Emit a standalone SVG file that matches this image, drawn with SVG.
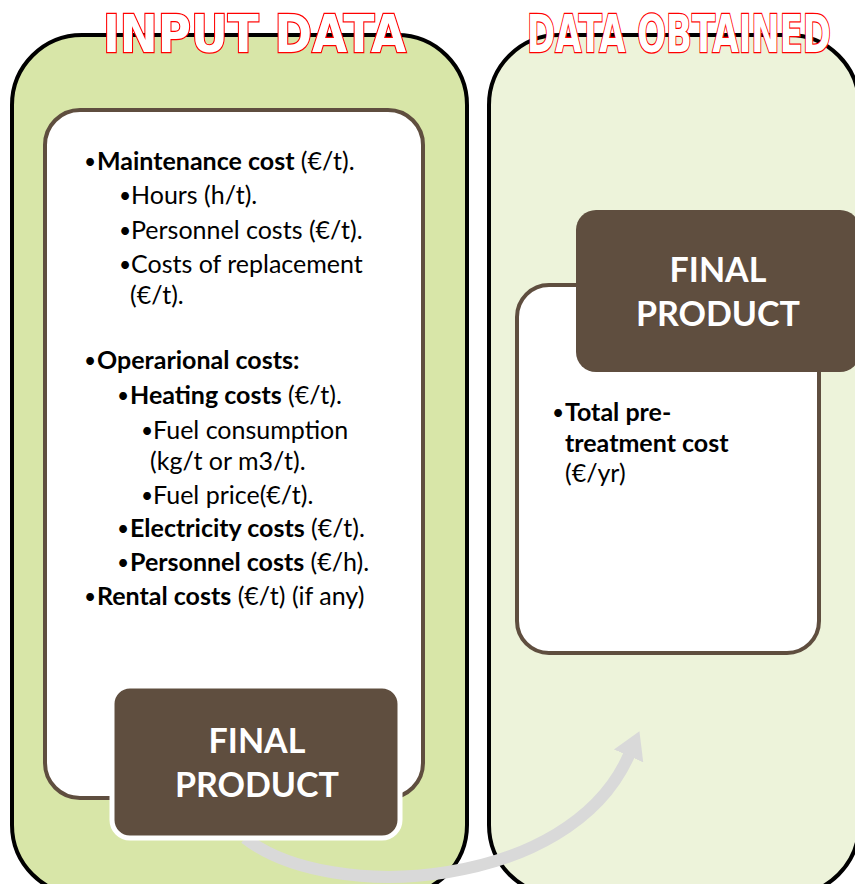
<svg xmlns="http://www.w3.org/2000/svg" width="855" height="884" viewBox="0 0 855 884">
<style>
.outer{stroke:#000;stroke-width:4}
.inner{fill:#fff;stroke:#5f4e3f;stroke-width:4}
.fp{fill:#5f4e3f}
.fpt{font-family:Lato,"Liberation Sans",sans-serif;font-weight:bold;font-size:34px;fill:#fff;text-anchor:middle}
.t{font-family:Lato,"Liberation Sans",sans-serif;font-size:25px;fill:#000}
.b{font-weight:bold}
.u{font-size:21px;baseline-shift:1px}
.title{font-family:"DejaVu Sans","Liberation Sans",sans-serif;font-weight:bold;font-size:51px;fill:#fff;stroke:#ff0000;stroke-width:2.4;paint-order:stroke}
</style>
<defs>
<marker id="ah" markerUnits="userSpaceOnUse" markerWidth="30" markerHeight="34" refX="1" refY="16" orient="auto" viewBox="0 0 30 32">
<path d="M0,0 L27,16 L0,32 Z" fill="#d9d9d9"/>
</marker>
</defs>
<rect width="855" height="884" fill="#fff"/>
<g id="input-data">
<rect class="outer" x="12" y="35" width="455" height="860" rx="70" fill="#d8e6a8"/>
<rect class="inner" x="45" y="110" width="378" height="688" rx="35"/>
<text class="t" y="170"><tspan x="84" class="u">•</tspan><tspan x="97" class="b">Maintenance cost</tspan> (€/t).</text>
<text class="t" y="204"><tspan x="119" class="u">•</tspan><tspan x="131">Hours (h/t).</tspan></text>
<text class="t" y="239"><tspan x="119" class="u">•</tspan><tspan x="131">Personnel costs (€/t).</tspan></text>
<text class="t" y="273"><tspan x="119" class="u">•</tspan><tspan x="131">Costs of replacement</tspan></text>
<text class="t" x="130" y="304">(€/t).</text>
<text class="t" y="369"><tspan x="84" class="u">•</tspan><tspan x="97" class="b">Operarional costs:</tspan></text>
<text class="t" y="404"><tspan x="117" class="u">•</tspan><tspan x="130" class="b">Heating costs</tspan> (€/t).</text>
<text class="t" y="439"><tspan x="141" class="u">•</tspan><tspan x="153">Fuel consumption</tspan></text>
<text class="t" x="150" y="470">(kg/t or m3/t).</text>
<text class="t" y="504"><tspan x="141" class="u">•</tspan><tspan x="153">Fuel price(€/t).</tspan></text>
<text class="t" y="537"><tspan x="117" class="u">•</tspan><tspan x="130" class="b">Electricity costs</tspan> (€/t).</text>
<text class="t" y="571"><tspan x="117" class="u">•</tspan><tspan x="130" class="b">Personnel costs</tspan>  (€/h).</text>
<text class="t" y="605"><tspan x="84" class="u">•</tspan><tspan x="97" class="b">Rental costs</tspan> (€/t) (if any)</text>
</g>
<g id="data-obtained">
<rect class="outer" x="489" y="35" width="370" height="860" rx="70" fill="#edf3da"/>
<rect class="inner" x="517" y="285" width="302" height="368" rx="32"/>
<text class="t" y="421"><tspan x="552" class="u">•</tspan><tspan x="565" class="b">Total pre-</tspan></text>
<text class="t b" x="565" y="452">treatment cost</text>
<text class="t" x="565" y="482">(€/yr)</text>
</g>
<g id="final-product-right">
<rect class="fp" x="576" y="210" width="284" height="162" rx="20"/>
<text class="fpt" x="718" y="282">FINAL</text>
<text class="fpt" x="718" y="326">PRODUCT</text>
</g>
<g id="connectors">
<path d="M245,838 C330,905 570,890 629,755" fill="none" stroke="#d9d9d9" stroke-width="12" marker-end="url(#ah)"/>
</g>
<g id="final-product-left">
<rect class="fp" x="112" y="686" width="288" height="152" rx="18" stroke="#fff" stroke-width="5"/>
<text class="fpt" x="257" y="753">FINAL</text>
<text class="fpt" x="257" y="797">PRODUCT</text>
</g>
<g id="titles">
<text class="title" x="103" y="52" textLength="303" lengthAdjust="spacingAndGlyphs">INPUT DATA</text>
<text class="title" x="527" y="52" textLength="304" lengthAdjust="spacingAndGlyphs">DATA OBTAINED</text>
</g>
</svg>
